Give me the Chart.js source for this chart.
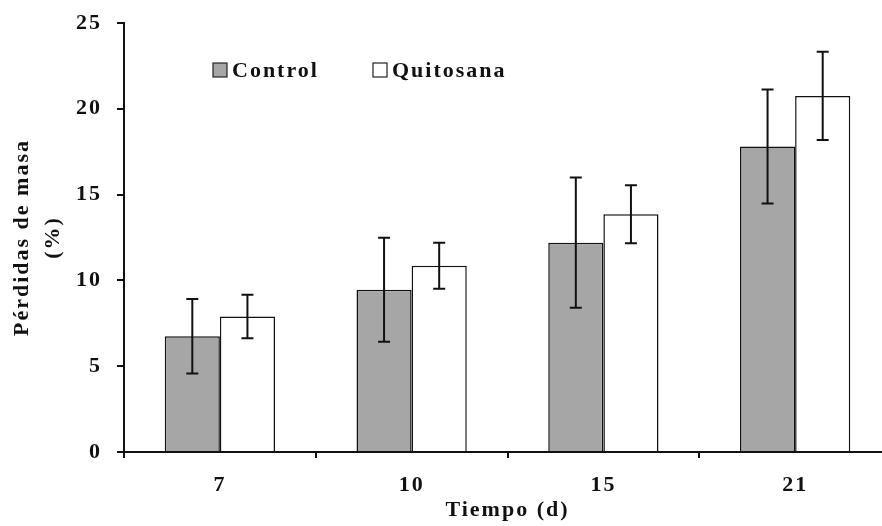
<!DOCTYPE html>
<html>
<head>
<meta charset="utf-8">
<script src="https://cdn.jsdelivr.net/npm/chart.js@4"></script>
<style>
  body { margin: 0; background: #fff; overflow: hidden; }
  #wrap { width: 891px; height: 526px; }
</style>
</head>
<body>
<div id="wrap"><canvas id="myChart"></canvas></div>
<script>
var days = ['7', '10', '15', '21'];
var controlVals = [6.75, 9.45, 12.2, 17.8];
var controlSd = [2.17, 3.03, 3.8, 3.32];
var quitoVals = [7.9, 10.85, 13.85, 20.75];
var quitoSd = [1.27, 1.34, 1.69, 2.57];
var yTicks = [0, 5, 10, 15, 20, 25];

var serif = '"Liberation Serif", "Times New Roman", serif';
var bold22 = { family: serif, size: 22, weight: 'bold' };

// the original text is spaced out a little
var spacing = {
  id: 'spacing',
  beforeLayout: function(chart) { chart.ctx.letterSpacing = '2px'; },
  beforeDraw: function(chart) { chart.ctx.letterSpacing = '2px'; }
};

// error bars on top of each bar
var errorBars = {
  id: 'errorBars',
  afterDatasetsDraw: function(chart) {
    var ctx = chart.ctx;
    var y = chart.scales.y;
    ctx.save();
    ctx.strokeStyle = '#111';
    ctx.lineWidth = 2;
    chart.data.datasets.forEach(function(ds, i) {
      var meta = chart.getDatasetMeta(i);
      meta.data.forEach(function(bar, j) {
        var v = ds.data[j], sd = ds.sd[j];
        var top = y.getPixelForValue(v + sd);
        var bot = y.getPixelForValue(v - sd);
        ctx.beginPath();
        ctx.moveTo(bar.x, top); ctx.lineTo(bar.x, bot);
        ctx.moveTo(bar.x - 6, top); ctx.lineTo(bar.x + 6, top);
        ctx.moveTo(bar.x - 6, bot); ctx.lineTo(bar.x + 6, bot);
        ctx.stroke();
      });
    });
    ctx.restore();
  }
};

// legend drawn inside the plot, like the original
var innerLegend = {
  id: 'innerLegend',
  afterDraw: function(chart) {
    var ctx = chart.ctx;
    var xs = [213, 373];
    ctx.save();
    ctx.font = 'bold 22px ' + serif;
    ctx.textBaseline = 'middle';
    chart.data.datasets.forEach(function(ds, i) {
      ctx.fillStyle = ds.backgroundColor;
      ctx.fillRect(xs[i], 63, 14, 14);
      ctx.strokeStyle = '#222';
      ctx.lineWidth = 1.2;
      ctx.strokeRect(xs[i], 63, 14, 14);
      ctx.fillStyle = '#111';
      ctx.fillText(ds.label, xs[i] + 19, 71);
    });
    ctx.restore();
  }
};

var ctx = document.getElementById('myChart').getContext('2d');
var myChart = new Chart(ctx, {
  type: 'bar',
  data: {
    labels: days,
    datasets: [{
      label: 'Control',
      data: controlVals,
      sd: controlSd,
      backgroundColor: '#a6a6a6',
      borderColor: '#111',
      borderWidth: 1.5
    }, {
      label: 'Quitosana',
      data: quitoVals,
      sd: quitoSd,
      backgroundColor: '#ffffff',
      borderColor: '#111',
      borderWidth: 1.5
    }]
  },
  options: {
    responsive: true,
    maintainAspectRatio: false,
    animation: false,
    layout: { padding: { top: 23, right: 0, left: 0, bottom: 0 } },
    plugins: { legend: { display: false }, tooltip: { enabled: false } },
    datasets: { bar: { categoryPercentage: 0.575, barPercentage: 1 } },
    scales: {
      x: {
        afterFit: function(s) { s.height = 74; s.paddingLeft = 0; s.paddingRight = 0; },
        border: { color: '#111', width: 2 },
        grid: { drawOnChartArea: false, drawTicks: true, tickLength: 6, color: '#111', lineWidth: 2 },
        ticks: { color: '#111', font: bold22, padding: 14 },
        title: { display: true, text: 'Tiempo (d)', color: '#111', font: bold22, padding: { top: 0, bottom: 2 } }
      },
      y: {
        min: 0, max: 25,
        afterFit: function(s) { s.width = 124; s.paddingTop = 0; s.paddingBottom = 0; },
        afterBuildTicks: function(s) { s.ticks = yTicks.map(function(v) { return { value: v }; }); },
        border: { color: '#111', width: 2 },
        grid: { drawOnChartArea: false, drawTicks: true, tickLength: 7, color: '#111', lineWidth: 2 },
        ticks: { color: '#111', font: bold22, padding: 15 },
        title: { display: true, text: ['Pérdidas de masa', '(%)'], color: '#111', font: { family: serif, size: 22, weight: 'bold', lineHeight: 1.4 }, padding: { top: 7, bottom: 0 } }
      }
    }
  },
  plugins: [spacing, errorBars, innerLegend]
});
</script>
</body>
</html>
